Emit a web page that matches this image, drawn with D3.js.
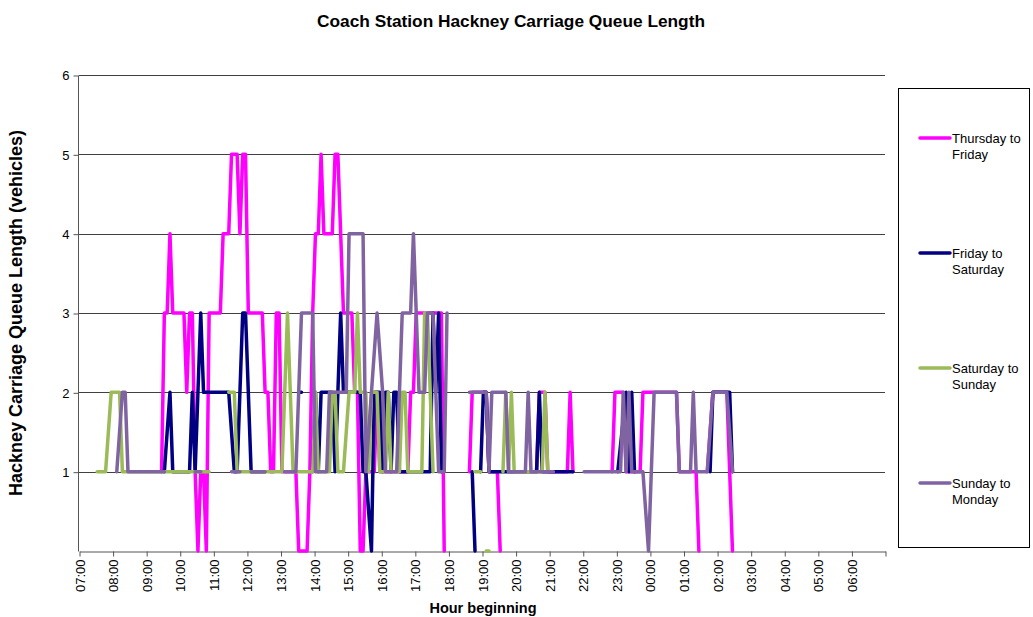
<!DOCTYPE html>
<html>
<head>
<meta charset="utf-8">
<script src="https://cdn.jsdelivr.net/npm/d3@7"></script>
<style>
  body { margin: 0; background: #fff; }
  svg { display: block; font-family: "Liberation Sans", Arial, sans-serif; }
</style>
</head>
<body>
<svg id="chart" width="1033" height="617"></svg>
<script>
// hour labels on the category axis
var hourLabels = ["07:00","08:00","09:00","10:00","11:00","12:00","13:00","14:00","15:00","16:00","17:00","18:00",
  "19:00","20:00","21:00","22:00","23:00","00:00","01:00","02:00","03:00","04:00","05:00","06:00"];
var yTicks = [1, 2, 3, 4, 5, 6];

var seriesNames = ["Thursday to Friday", "Friday to Saturday", "Saturday to Sunday", "Sunday to Monday"];
var seriesColors = ["#ff00ff", "#000080", "#9bbb59", "#8064a2"];

// queue length readings (5 minute slots), [slot start, vehicles]; null = no reading
var thuFri = [
  ["09:25",1],["09:30",3],["09:35",3],["09:40",4],["09:45",3],["10:05",3],["10:10",2],["10:15",3],["10:20",3],
  ["10:25",1],["10:30",0],["10:35",1],["10:40",1],["10:45",0],["10:50",3],["11:10",3],["11:15",4],["11:25",4],
  ["11:30",5],["11:40",5],["11:45",4],["11:50",5],["11:55",5],["12:00",3],["12:25",3],["12:30",2],["12:35",2],
  ["12:40",1],["12:45",1],["12:50",3],["12:55",3],["13:00",1],["13:25",1],["13:30",0],["13:45",0],["13:50",1],
  ["13:55",3],["14:00",4],["14:05",4],["14:10",5],["14:15",4],["14:30",4],["14:35",5],["14:40",5],["14:45",4],
  ["14:50",3],["15:05",3],["15:10",2],["15:15",2],["15:20",0],["15:25",0],["15:30",1],["15:45",1],["15:50",2],
  ["15:55",1],["16:40",1],["16:45",1],["16:50",2],["16:55",2],["17:00",3],["17:45",3],["17:50",0],["17:55",null],
  ["18:35",1],["18:40",2],["19:05",2],["19:10",1],["19:25",1],["19:30",0],["19:35",null],
  ["20:35",1],["20:40",2],["20:50",2],["20:55",1],["21:30",1],["21:35",2],["21:40",1],["21:45",null],
  ["22:50",1],["22:55",2],["23:10",2],["23:15",1],["23:40",1],["23:45",2],["00:45",2],["00:50",1],["01:20",1],
  ["01:25",0],["01:30",null],
  ["01:40",1],["01:50",2],["02:15",2],["02:20",1],["02:25",0]
];
var friSat = [
  ["09:30",1],["09:40",2],["09:45",1],["10:15",1],["10:20",2],["10:25",1],["10:35",3],["10:40",2],["11:25",2],
  ["11:35",1],["11:40",1],["11:50",3],["11:55",3],["12:05",1],["12:30",1],["12:35",null],
  ["13:30",2],["13:35",2],["13:40",null],
  ["13:55",1],["14:00",2],["14:05",1],["14:10",2],["14:30",2],["14:35",1],["14:40",2],["14:45",3],["14:50",2],
  ["15:20",2],["15:25",1],["15:30",1],["15:40",0],["15:45",2],["15:55",2],["16:00",1],["16:05",2],["16:10",2],
  ["16:15",1],["16:20",2],["16:25",2],["16:30",1],["17:25",1],["17:30",3],["17:35",2],["17:40",3],["17:45",1],
  ["17:50",null],
  ["18:40",1],["18:45",0],["18:50",null],
  ["18:55",1],["19:00",2],["19:05",2],["19:10",1],["20:35",1],["20:40",2],["20:45",1],["21:40",1],["21:45",null],
  ["23:00",1],["23:15",2],["23:20",1],["23:25",2],["23:30",1],["23:35",null],
  ["01:45",1],["01:50",2],["02:20",2],["02:25",1]
];
var satSun = [
  ["07:30",1],["07:45",1],["07:55",2],["08:10",2],["08:15",1],["10:50",1],["10:55",null],
  ["11:25",2],["11:35",2],["11:40",1],["13:00",1],["13:05",2],["13:10",3],["13:15",2],["13:20",1],["13:55",1],
  ["14:00",2],["14:05",1],["14:25",1],["14:30",2],["14:35",2],["14:40",1],["14:50",1],["15:00",2],["15:10",2],
  ["15:15",3],["15:20",2],["15:30",2],["15:35",1],["15:40",2],["15:50",2],["15:55",1],["16:05",1],["16:10",2],
  ["16:15",1],["16:30",1],["16:35",2],["16:40",2],["16:45",1],["17:10",1],["17:15",3],["17:20",3],["17:25",2],
  ["17:30",1],["17:35",null],
  ["18:45",1],["18:55",1],["19:00",null],["19:05",0],["19:10",0],["19:15",null],
  ["19:35",1],["19:40",2],["19:45",1],["19:50",2],["19:55",1],["20:45",1],["20:50",2],["20:55",1]
];
var sunMon = [
  ["08:05",1],["08:15",2],["08:20",2],["08:25",1],["09:30",1],["09:35",null],
  ["10:25",1],["10:35",1],["10:40",null],
  ["11:30",1],["11:45",1],["11:50",null],
  ["12:05",1],["12:30",1],["12:35",null],
  ["13:05",1],["13:25",1],["13:35",3],["13:55",3],["14:00",1],["14:20",1],["14:25",2],["14:55",2],["15:00",4],
  ["15:25",4],["15:30",1],["15:50",3],["16:00",2],["16:05",1],["16:25",1],["16:35",3],["16:50",3],["16:55",4],
  ["17:00",3],["17:05",2],["17:15",2],["17:20",3],["17:30",3],["17:40",1],["17:50",1],["17:55",3],["18:00",null],
  ["18:35",2],["19:05",2],["19:10",1],["19:15",2],["19:40",2],["19:45",1],["20:15",1],["20:20",2],["20:25",1],
  ["21:05",1],["21:10",null],
  ["22:00",1],["23:05",1],["23:10",2],["23:15",1],["23:20",2],["23:25",1],["23:45",1],["23:55",0],["00:00",1],
  ["00:05",2],["00:45",2],["00:50",1],["01:10",1],["01:15",2],["01:20",1],["01:40",1],["01:50",2],["02:15",2],
  ["02:25",1]
];
var allSeries = [thuFri, friSat, satSun, sunMon];

var svg = d3.select("#chart");
var plotLeft = 79, plotRight = 885, plotTop = 75, plotBottom = 551;

// minutes after 07:00
function toMin(s) {
  var p = s.split(":");
  var h = +p[0];
  if (h < 7) h += 24;
  return (h - 7) * 60 + (+p[1]);
}

var x = d3.scaleLinear().domain([0, 1440]).range([plotLeft, plotRight]);
var y = d3.scaleLinear().domain([0, 6]).range([plotBottom, plotTop]);

// gridlines
svg.append("g")
  .selectAll("line")
  .data(yTicks)
  .enter().append("line")
  .attr("x1", plotLeft).attr("x2", plotRight)
  .attr("y1", function(d) { return Math.round(y(d)) + 0.5; })
  .attr("y2", function(d) { return Math.round(y(d)) + 0.5; })
  .attr("stroke", "#404040")
  .attr("stroke-width", 1);

// y axis
var yAxis = svg.append("g")
  .attr("transform", "translate(" + (plotLeft - 0.5) + ",0.5)")
  .call(d3.axisLeft(y).tickValues(yTicks).tickSize(5).tickPadding(4).tickFormat(d3.format("d")));
yAxis.select(".domain").attr("stroke", "#555").attr("d", "M0," + plotTop + "V" + plotBottom);
yAxis.selectAll(".tick line").attr("stroke", "#555");
yAxis.selectAll("text").attr("font-size", 13).attr("fill", "#000").attr("font-family", "Liberation Sans, Arial");

// x axis
var hourTicks = d3.range(0, 1441, 60);
var xAxis = svg.append("g")
  .attr("transform", "translate(0.5," + (plotBottom + 0.5) + ")")
  .call(d3.axisBottom(x).tickValues(hourTicks).tickSize(5).tickSizeOuter(0)
    .tickFormat(function(d, i) { return hourLabels[i] || ""; }));
xAxis.select(".domain").attr("stroke", "#555");
xAxis.selectAll(".tick line").attr("stroke", "#555");
xAxis.selectAll("text")
  .attr("font-size", 13).attr("fill", "#000").attr("font-family", "Liberation Sans, Arial")
  .attr("text-anchor", "end")
  .attr("transform", "rotate(-90)")
  .attr("x", -8).attr("y", 0).attr("dy", "0.35em");

// series lines
var line = d3.line()
  .defined(function(d) { return d[1] !== null; })
  .x(function(d) { return x(toMin(d[0]) + 2.5); })
  .y(function(d) { return y(d[1]); });

svg.append("g")
  .selectAll("path")
  .data(allSeries)
  .enter().append("path")
  .attr("d", line)
  .attr("fill", "none")
  .attr("stroke", function(d, i) { return seriesColors[i]; })
  .attr("stroke-width", 3.5)
  .attr("stroke-linejoin", "round")
  .attr("stroke-linecap", "round");

// titles
svg.append("text")
  .attr("x", 511).attr("y", 27)
  .attr("text-anchor", "middle")
  .attr("font-size", 17.3).attr("font-weight", "bold")
  .text("Coach Station Hackney Carriage Queue Length");

svg.append("text")
  .attr("x", 483).attr("y", 613)
  .attr("text-anchor", "middle")
  .attr("font-size", 14.5).attr("font-weight", "bold")
  .text("Hour beginning");

svg.append("text")
  .attr("transform", "translate(22,313) rotate(-90)")
  .attr("text-anchor", "middle")
  .attr("font-size", 18).attr("font-weight", "bold")
  .text("Hackney Carriage Queue Length (vehicles)");

// legend
var legend = svg.append("g");
legend.append("rect")
  .attr("x", 898.5).attr("y", 88.5).attr("width", 131).attr("height", 459)
  .attr("fill", "#fff").attr("stroke", "#000").attr("stroke-width", 1);

var entry = legend.selectAll("g.entry")
  .data(seriesNames)
  .enter().append("g")
  .attr("class", "entry")
  .attr("transform", function(d, i) { return "translate(920," + (138 + i * 115) + ")"; });

entry.append("line")
  .attr("x1", 0).attr("x2", 30)
  .attr("stroke", function(d, i) { return seriesColors[i]; })
  .attr("stroke-width", 3.5)
  .attr("stroke-linecap", "round");

entry.append("text")
  .attr("x", 32)
  .attr("font-size", 13)
  .selectAll("tspan")
  .data(function(d) { var w = d.split(" "); return [w[0] + " " + w[1], w[2]]; })
  .enter().append("tspan")
  .attr("x", 32)
  .attr("y", function(d, i) { return 5 + i * 16; })
  .text(function(d) { return d; });
</script>
</body>
</html>
